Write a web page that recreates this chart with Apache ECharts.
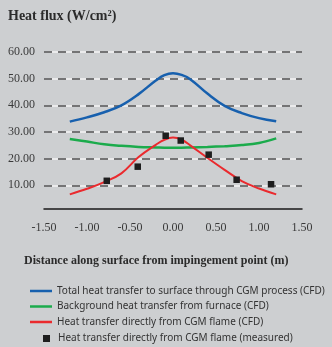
<!DOCTYPE html>
<html>
<head>
<meta charset="utf-8">
<script src="https://cdn.jsdelivr.net/npm/echarts@6/dist/echarts.min.js"></script>
<style>
  html, body { margin: 0; padding: 0; background: #cdcfd1; }
  #chart { width: 332px; height: 347px; }
</style>
</head>
<body>
<div id="chart"></div>
<script>
// distance (m) along the surface
const xCfd = [-1.2, -1.0, -0.8, -0.6, -0.4, -0.2, -0.1, 0, 0.1, 0.2, 0.4, 0.6, 0.8, 1.0, 1.2];
// CFD curves, W/cm2
const totalCfd      = [33.9, 35.5, 37.4, 40.0, 44.2, 49.3, 51.3, 52.0, 51.4, 49.8, 44.4, 39.8, 37.1, 35.2, 34.0];
const backgroundCfd = [27.4, 26.4, 25.4, 24.8, 24.4, 24.2, 24.1, 24.1, 24.1, 24.2, 24.4, 24.7, 25.1, 25.9, 27.6];
const flameCfd      = [6.6, 8.7, 11.2, 14.5, 20.6, 25.2, 27.1, 27.9, 27.1, 25.0, 20.3, 15.8, 11.6, 8.8, 6.6];
// measured points
const xMeas     = [-0.77, -0.41, -0.085, 0.09, 0.415, 0.74, 1.14];
const flameMeas = [11.7, 17.0, 28.6, 26.8, 21.5, 12.1, 10.4];

const names = [
  'Total heat transfer to surface through CGM process (CFD)',
  'Background heat transfer from furnace (CFD)',
  'Heat transfer directly from CGM flame (CFD)',
  'Heat transfer directly from CGM flame (measured)'
];
const colors = ['#1760ae', '#1bab4c', '#ea2a2e', '#1e1e1e'];

const pairs = (xs, ys) => xs.map((x, i) => [x, ys[i]]);

const serif = '"Liberation Serif", serif';
const sans = '"Noto Sans", sans-serif';

let chart = echarts.init(document.getElementById('chart'));

let option = {
  backgroundColor: '#cdcfd1',
  animation: false,
  title: [
    {
      text: 'Heat flux (W/cm²)',
      left: 8, top: 9, padding: 0,
      textStyle: { fontFamily: serif, fontSize: 14, fontWeight: 'bold', color: '#2b2b2b' }
    },
    {
      text: 'Distance along surface from impingement point (m)',
      left: 24, top: 254.5, padding: 0,
      textStyle: { fontFamily: serif, fontSize: 12, fontWeight: 'bold', color: '#2b2b2b' }
    }
  ],
  legend: [
    {
      orient: 'vertical',
      left: 30, top: 286, padding: 0,
      itemWidth: 22, itemHeight: 2.5, itemGap: 5.5,
      // plain bar icons, the line series would otherwise add a circle
      data: names.slice(0, 3).map(n => ({ name: n, icon: 'rect' })),
      textStyle: { fontFamily: sans, fontSize: 10, color: '#333', lineHeight: 10 }
    },
    {
      orient: 'vertical',
      left: 43, top: 333.5, padding: 0,
      itemWidth: 7, itemHeight: 7,
      data: [{ name: names[3], icon: 'rect' }],
      textStyle: { fontFamily: sans, fontSize: 10, color: '#333', lineHeight: 10, padding: [0, 0, 0, 3] }
    }
  ],
  grid: { left: 44, right: 30, top: 52, height: 160 },
  xAxis: {
    type: 'value',
    min: -1.5, max: 1.5, interval: 0.5,
    offset: -3,
    axisLine: { lineStyle: { color: '#1a1a1a', width: 1.5 } },
    axisTick: { show: false },
    splitLine: { show: false },
    axisLabel: {
      margin: 13,
      fontFamily: serif, fontSize: 12, color: '#3a3a3a',
      formatter: v => v.toFixed(2)
    }
  },
  yAxis: [
    {
      type: 'value',
      min: 0, max: 60, interval: 10,
      z: 1,
      axisLine: { show: false },
      axisTick: { show: false },
      splitLine: { showMinLine: false, lineStyle: { color: '#4d4d4d', width: 1.6, type: [8, 6] } },
      axisLabel: {
        margin: 9,
        fontFamily: serif, fontSize: 12, color: '#3a3a3a',
        formatter: v => v === 0 ? '' : v.toFixed(2)
      }
    },
    {
      type: 'value',
      min: 0, max: 60, interval: 10,
      position: 'left',
      z: 0,
      axisLine: { show: false },
      axisTick: { show: false },
      axisLabel: { show: false },
      splitLine: { showMinLine: false, lineStyle: { color: '#f4f4f4', width: 1.6 } }
    }
  ],
  series: [
    {
      name: names[0], type: 'line', smooth: 0.4, symbol: 'none',
      data: pairs(xCfd, totalCfd),
      color: colors[0], lineStyle: { width: 2.5 }
    },
    {
      name: names[1], type: 'line', smooth: 0.4, symbol: 'none',
      data: pairs(xCfd, backgroundCfd),
      color: colors[1], lineStyle: { width: 2.5 }
    },
    {
      name: names[2], type: 'line', smooth: 0.4, symbol: 'none',
      data: pairs(xCfd, flameCfd),
      color: colors[2], lineStyle: { width: 2 }
    },
    {
      name: names[3], type: 'scatter', symbol: 'rect', symbolSize: 6.5,
      data: pairs(xMeas, flameMeas),
      color: colors[3], itemStyle: { opacity: 1 }, z: 3
    }
  ]
};

chart.setOption(option);
</script>
</body>
</html>
